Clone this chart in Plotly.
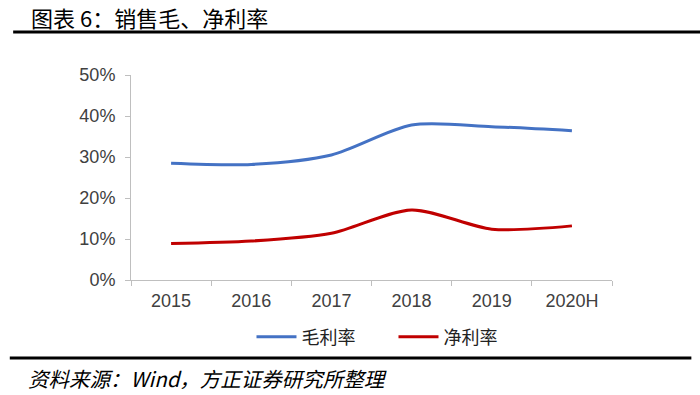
import plotly.graph_objects as go

categories = ["2015", "2016", "2017", "2018", "2019", "2020H"]
gross_margin = [0.285, 0.282, 0.305, 0.378, 0.374, 0.364]
net_margin = [0.089, 0.095, 0.114, 0.171, 0.124, 0.132]
y_ticks = [0, 0.1, 0.2, 0.3, 0.4, 0.5]
y_tick_labels = ["0%", "10%", "20%", "30%", "40%", "50%"]

fig = go.Figure()
fig.add_trace(go.Scatter(x=categories, y=gross_margin, name="毛利率", mode="lines",
                         line=dict(color="#4472C4", width=3, shape="spline", smoothing=0.8)))
fig.add_trace(go.Scatter(x=categories, y=net_margin, name="净利率", mode="lines",
                         line=dict(color="#C00000", width=3, shape="spline", smoothing=0.8)))

axis_font = dict(family="Liberation Sans, Arial, sans-serif", size=18, color="#404040")
fig.update_layout(
    width=700, height=395,
    margin=dict(l=131, r=88, t=75, b=115),
    plot_bgcolor="white", paper_bgcolor="white",
    showlegend=True,
    legend=dict(orientation="h", x=0.2505, xanchor="left", y=-0.278, yanchor="middle",
                font=dict(family="Noto Sans CJK SC", size=18, color="#222"),
                itemwidth=40, tracegroupgap=0, entrywidth=87, entrywidthmode="pixels"),
    xaxis=dict(type="category", range=[-0.5, 5.5], showline=True, linecolor="#BFBFBF", linewidth=1,
               ticks="outside", tickson="boundaries", ticklen=5, tickcolor="#BFBFBF",
               tickfont=axis_font, showgrid=False, zeroline=False, ticklabelstandoff=4),
    yaxis=dict(range=[0, 0.5], tickvals=y_ticks, ticktext=y_tick_labels,
               showline=True, linecolor="#BFBFBF", linewidth=1,
               ticks="outside", ticklen=5, tickcolor="#BFBFBF",
               tickfont=axis_font, showgrid=False, zeroline=False, ticklabelstandoff=6),
)

fig.add_shape(type="line", xref="paper", yref="paper", x0=-0.245, x1=1.183, y0=1.2098, y1=1.2098,
              line=dict(color="black", width=3))
fig.add_shape(type="line", xref="paper", yref="paper", x0=-0.252, x1=1.165, y0=-0.3805, y1=-0.3805,
              line=dict(color="black", width=3))
fig.add_annotation(xref="paper", yref="paper", x=-0.212, y=1.283, xanchor="left", yanchor="middle",
                   text="图表 6：销售毛、净利率", showarrow=False,
                   font=dict(family="Noto Sans CJK SC", size=22, color="black"))
fig.add_annotation(xref="paper", yref="paper", x=-0.218, y=-0.478, xanchor="left", yanchor="middle",
                   text="<i>资料来源：Wind，方正证券研究所整理</i>", showarrow=False,
                   font=dict(family="Noto Sans CJK SC", size=20.5, color="black"))

fig.write_html("out.html", config={"displayModeBar": False},
               post_script="document.body.style.margin='0';")
